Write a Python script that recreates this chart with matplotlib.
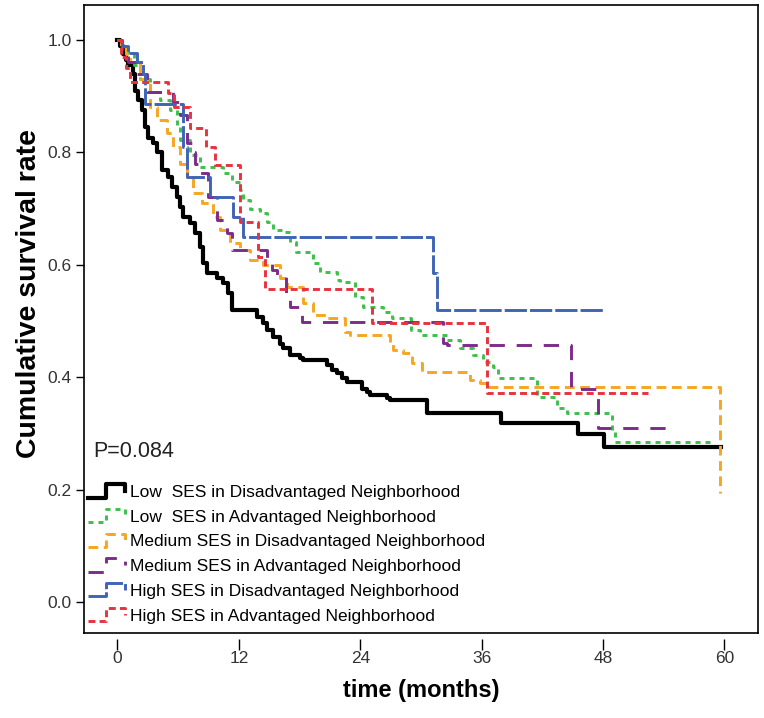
import matplotlib
matplotlib.use('Agg')
import matplotlib.pyplot as plt
from matplotlib.lines import Line2D
from matplotlib.legend_handler import HandlerBase

plt.rcParams['font.family'] = ['Liberation Sans', 'DejaVu Sans']
plt.rcParams['lines.scale_dashes'] = False

# Kaplan-Meier step data (months, survival)
low_dis_t = [0, 0.3, 0.6, 0.8, 1.0, 1.5, 1.7, 2.0, 2.4, 2.7, 3.0, 3.5, 3.9, 4.4, 5.0, 5.4,
             5.9, 6.2, 6.5, 7.2, 7.7, 8.2, 8.5, 8.9, 9.8, 10.4, 10.9, 11.3, 13.8, 14.4,
             14.8, 15.4, 16.1, 16.4, 17.1, 18.0, 18.3, 20.7, 21.2, 21.7, 22.2, 22.7,
             24.2, 24.7, 25.0, 26.6, 26.9, 30.6, 37.9, 45.5, 48.1, 59.7]
low_dis_s = [1.0, 0.99, 0.975, 0.965, 0.955, 0.94, 0.91, 0.893, 0.875, 0.845, 0.825, 0.817,
             0.80, 0.769, 0.756, 0.738, 0.72, 0.703, 0.685, 0.674, 0.656, 0.632, 0.603,
             0.585, 0.576, 0.568, 0.55, 0.52, 0.507, 0.496, 0.484, 0.472, 0.46, 0.452,
             0.44, 0.434, 0.43, 0.422, 0.413, 0.407, 0.399, 0.391, 0.38, 0.374, 0.368,
             0.363, 0.36, 0.336, 0.318, 0.30, 0.276, 0.276]

low_adv_t = [0, 0.5, 1.0, 1.6, 2.2, 3.2, 4.2, 5.2, 5.9, 6.2, 7.2, 8.2, 10.4, 11.3, 12.1,
             12.4, 13.1, 14.1, 14.8, 15.4, 16.6, 17.1, 17.6, 19.3, 20.0, 21.7, 22.0,
             23.5, 24.3, 26.2, 27.1, 29.0, 29.9, 32.6, 33.9, 35.1, 36.1, 37.1, 37.6,
             41.5, 43.4, 44.4, 48.9, 49.2, 58.7]
low_adv_s = [1.0, 0.99, 0.975, 0.955, 0.93, 0.907, 0.893, 0.875, 0.845, 0.822, 0.795, 0.774,
             0.763, 0.747, 0.733, 0.715, 0.70, 0.692, 0.676, 0.662, 0.658, 0.64, 0.623,
             0.603, 0.587, 0.573, 0.569, 0.543, 0.525, 0.516, 0.505, 0.484, 0.475,
             0.466, 0.452, 0.44, 0.427, 0.418, 0.399, 0.365, 0.345, 0.336, 0.306,
             0.285, 0.285]

med_dis_t = [0, 0.4, 0.8, 1.2, 2.2, 3.2, 3.9, 4.9, 5.5, 6.2, 6.9, 7.5, 8.4, 9.4, 10.1,
             11.1, 12.1, 13.1, 14.4, 16.1, 16.8, 18.3, 19.3, 20.7, 22.5, 23.0, 26.9,
             27.2, 28.2, 29.1, 30.1, 34.8, 35.8, 36.5, 59.6]
med_dis_s = [1.0, 0.985, 0.975, 0.96, 0.93, 0.88, 0.857, 0.834, 0.81, 0.78, 0.756, 0.727,
             0.71, 0.685, 0.662, 0.639, 0.626, 0.609, 0.60, 0.577, 0.56, 0.532, 0.51,
             0.505, 0.48, 0.475, 0.46, 0.448, 0.443, 0.425, 0.409, 0.395, 0.39, 0.383,
             0.194]

med_adv_t = [0, 0.5, 1.0, 1.8, 2.9, 5.5, 6.2, 6.9, 7.5, 7.7, 8.2, 9.0, 9.8, 10.6, 10.8,
             11.3, 14.8, 15.3, 15.8, 16.7, 17.1, 18.2, 32.2, 32.6, 44.8, 47.5, 54.6]
med_adv_s = [1.0, 0.98, 0.96, 0.94, 0.907, 0.89, 0.867, 0.817, 0.80, 0.78, 0.763, 0.72,
             0.68, 0.674, 0.656, 0.626, 0.603, 0.59, 0.578, 0.55, 0.525, 0.498, 0.461,
             0.457, 0.38, 0.31, 0.31]

high_dis_t = [0, 0.5, 1.0, 1.9, 2.5, 2.7, 6.5, 6.9, 9.1, 11.4, 12.4, 31.2, 31.6, 48.0]
high_dis_s = [1.0, 0.99, 0.977, 0.96, 0.94, 0.886, 0.81, 0.756, 0.72, 0.685, 0.65, 0.585,
              0.52, 0.52]

high_adv_t = [0, 0.4, 0.8, 1.2, 5.0, 5.6, 7.2, 8.8, 9.6, 12.1, 13.9, 14.6, 25.2, 36.5, 52.4]
high_adv_s = [1.0, 0.97, 0.95, 0.925, 0.905, 0.88, 0.843, 0.81, 0.778, 0.676, 0.614, 0.557,
              0.496, 0.372, 0.372]

labels = ['Low  SES in Disadvantaged Neighborhood',
          'Low  SES in Advantaged Neighborhood',
          'Medium SES in Disadvantaged Neighborhood',
          'Medium SES in Advantaged Neighborhood',
          'High SES in Disadvantaged Neighborhood',
          'High SES in Advantaged Neighborhood']
x_ticks = [0, 12, 24, 36, 48, 60]
y_ticks = [0.0, 0.2, 0.4, 0.6, 0.8, 1.0]


class StepHandler(HandlerBase):
    # draws the legend key as a small step, like the survival curves
    def create_artists(self, legend, orig_handle, xdescent, ydescent,
                       width, height, fontsize, trans):
        x0, y0 = -xdescent, -ydescent
        xs = [x0, x0 + 0.5 * width, x0 + 0.5 * width, x0 + width, x0 + width]
        ys = [y0, y0, y0 + height, y0 + height, y0 + 0.5 * height]
        line = Line2D(xs, ys)
        line.update_from(orig_handle)
        line.set_transform(trans)
        return [line]


fig = plt.figure(figsize=(7.64, 7.18), dpi=100)
ax = fig.add_axes([0.110, 0.118, 0.882, 0.875])

series = [
    (low_dis_t, low_dis_s, '#000000', 3.0, None),
    (low_adv_t, low_adv_s, '#3cc04a', 2.1, (3.6, 3.6)),
    (med_dis_t, med_dis_s, '#f5a623', 2.1, (7, 4)),
    (med_adv_t, med_adv_s, '#7d2b8b', 2.1, (11, 8.5)),
    (high_dis_t, high_dis_s, '#3f64b5', 2.1, (16, 2.2)),
    (high_adv_t, high_adv_s, '#e8333f', 2.1, (5, 3)),
]
handles = []
for (t, s, c, lw, dash), lab in zip(series, labels):
    ln, = ax.step(t, s, where='post', color=c, linewidth=lw, label=lab)
    if dash:
        ln.set_dashes(dash)
    handles.append(ln)

ax.set_xlim(-3.3, 63.3)
ax.set_ylim(-0.055, 1.062)
ax.set_xticks(x_ticks)
ax.set_yticks(y_ticks)
ax.set_yticklabels(['%.1f' % v for v in y_ticks])

for sp in ax.spines.values():
    sp.set_linewidth(1.2)
# SPSS style: x ticks sit a little below the frame
ax.spines['bottom'].set_position(('outward', 4))
ax.spines['bottom'].set_visible(False)
ax.plot([0, 1], [0, 0], transform=ax.transAxes, color='black', lw=1.2, clip_on=False)

ax.tick_params(axis='x', direction='out', length=8, width=1, pad=1,
               labelsize=12.5, labelcolor='#333333')
ax.tick_params(axis='y', direction='out', length=6, width=1, pad=3,
               labelsize=12.5, labelcolor='#333333')

ax.set_xlabel('time (months)', fontsize=17, fontweight='bold', labelpad=9)
ax.set_ylabel('Cumulative survival rate', fontsize=20.5, fontweight='bold')
ax.yaxis.set_label_coords(-0.062, 0.541)

ax.text(0.013, 0.29, 'P=0.084', transform=ax.transAxes, fontsize=15.5,
        va='center', ha='left', color='#222222')

leg = ax.legend(handles=handles, loc='upper left', bbox_to_anchor=(0.006, 0.237),
                frameon=False, fontsize=12.5, handlelength=2.1, handleheight=0.8,
                handletextpad=0.3, labelspacing=0.52, borderpad=0, borderaxespad=0,
                handler_map={Line2D: StepHandler()})

fig.savefig('out.png', dpi=100)
